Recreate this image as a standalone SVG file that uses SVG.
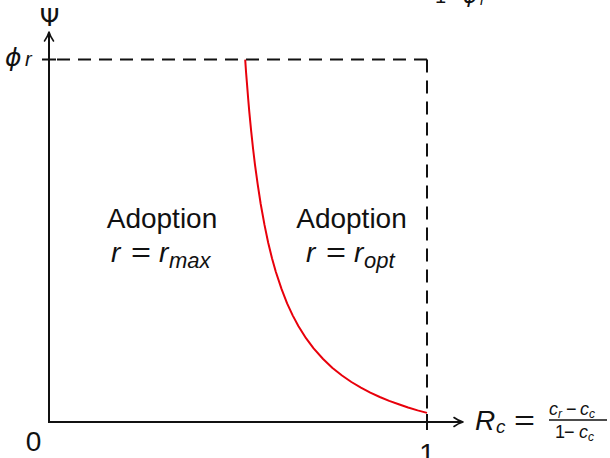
<svg xmlns="http://www.w3.org/2000/svg" width="610" height="458" viewBox="0 0 610 458">
<style>
text{font-family:"Liberation Sans","DejaVu Sans",Arial,sans-serif;fill:#111}
.it{font-style:italic}
.gr{font-family:"DejaVu Sans","Liberation Sans",sans-serif}
.ax{stroke:#111;stroke-width:2;fill:none}
.dash{stroke:#111;stroke-width:2;fill:none;stroke-dasharray:13 8}
.arr{stroke:#111;stroke-width:1.6;fill:none;stroke-linecap:round;stroke-linejoin:round}
.curve{stroke:#e8000b;stroke-width:2;fill:none;stroke-linejoin:round}
</style>
<rect width="610" height="458" fill="#fff"/>
<g id="connectors">
  <line class="ax" x1="49" y1="423" x2="49" y2="34"/>
  <line class="ax" x1="48" y1="422" x2="461" y2="422"/>
  <path class="arr" d="M44.5,41 Q47.5,37 49,32 Q50.5,37 53.5,41"/>
  <path class="arr" d="M454,417.5 Q458,420.5 463,422 Q458,423.5 454,426.5"/>
  <line class="ax" x1="42" y1="59.5" x2="56" y2="59.5"/>
  <line class="ax" x1="427" y1="414" x2="427" y2="430"/>
  <line class="dash" x1="427" y1="59.5" x2="49" y2="59.5"/>
  <line class="dash" x1="427" y1="59.5" x2="427" y2="422"/>
  <path id="boundary" class="curve" d="M245.2,59.6 L246.1,72.8 L247.1,85.1 L248.2,99 L249.3,111.8 L251.2,131.4 L253.1,149 L255,164.8 L257.7,184.4 L260.7,204 L264.5,224.9 L268.2,242.8 L272,258.2 L275.8,271.7 L281.5,288.9 L287.1,303.4 L292.8,315.6 L298.5,326.2 L306,338.2 L313.6,348.4 L323.1,359 L332.5,368 L342,375.5 L351.4,382 L360.9,387.6 L370.3,392.6 L379.8,397 L389.2,400.9 L398.7,404.3 L408.1,407.5 L417.6,410.4 L427,412.9"/>
</g>
<g id="axis-labels">
  <text x="49.5" y="26" font-size="25" text-anchor="middle" class="gr">Ψ</text>
  <text y="66"><tspan x="5" class="it gr" font-size="25">ϕ</tspan><tspan x="25" class="it" font-size="20">r</tspan></text>
  <text x="33.5" y="450.5" font-size="28" text-anchor="middle">0</text>
  <text x="427" y="463" font-size="28" text-anchor="middle">1</text>
  <text y="3"><tspan x="435" font-size="20">1</tspan><tspan x="447" font-size="20">−</tspan><tspan x="463" class="it gr" font-size="22">ϕ</tspan><tspan x="480" class="it" font-size="15" dy="2">r</tspan></text>
</g>
<g id="x-label">
  <text y="430"><tspan x="475" class="it" font-size="28">R</tspan><tspan x="496" class="it" font-size="19" dy="3">c</tspan></text>
  <text x="514" y="430" font-size="28" textLength="21" lengthAdjust="spacingAndGlyphs">=</text>
  <text y="415"><tspan x="549" class="it" font-size="18">c</tspan><tspan x="558" class="it" font-size="12" dy="3">r</tspan><tspan x="566" font-size="18" dy="-3">−</tspan><tspan x="580" class="it" font-size="18">c</tspan><tspan x="589" class="it" font-size="12" dy="3">c</tspan></text>
  <line x1="549" y1="420" x2="607" y2="420" stroke="#111" stroke-width="1.6"/>
  <text y="438"><tspan x="555" font-size="18">1</tspan><tspan x="564" font-size="18">−</tspan><tspan x="579" class="it" font-size="18">c</tspan><tspan x="588" class="it" font-size="12" dy="3">c</tspan></text>
</g>
<g id="region-max">
  <text x="162" y="228" font-size="28" text-anchor="middle">Adoption</text>
  <text y="262"><tspan x="111" class="it" font-size="28">r</tspan></text>
  <text x="131" y="262" font-size="28" textLength="20" lengthAdjust="spacingAndGlyphs">=</text>
  <text y="262"><tspan x="159" class="it" font-size="28">r</tspan><tspan x="169" class="it" font-size="22" dy="6">max</tspan></text>
</g>
<g id="region-opt">
  <text x="351.5" y="228" font-size="28" text-anchor="middle">Adoption</text>
  <text y="262"><tspan x="306" class="it" font-size="28">r</tspan></text>
  <text x="326" y="262" font-size="28" textLength="20" lengthAdjust="spacingAndGlyphs">=</text>
  <text y="262"><tspan x="354" class="it" font-size="28">r</tspan><tspan x="364" class="it" font-size="22" dy="6">opt</tspan></text>
</g>
</svg>
